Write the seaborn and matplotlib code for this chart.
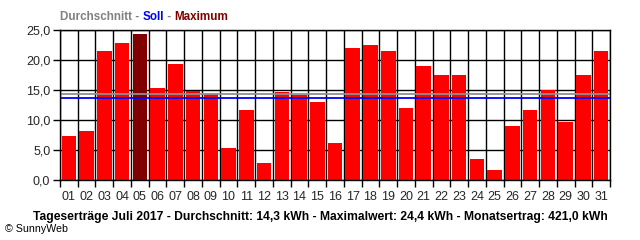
import matplotlib
matplotlib.use("Agg")
import matplotlib.pyplot as plt
import seaborn as sns
import pandas as pd
import numpy as np

days = [f"{i:02d}" for i in range(1, 32)]
values = [7.4, 8.2, 21.5, 22.8, 24.4, 15.3, 19.3, 14.9, 14.3, 5.3, 11.7, 2.8, 14.7, 14.1, 13.0,
          6.2, 22.0, 22.5, 21.5, 12.0, 19.0, 17.5, 17.5, 3.5, 1.7, 9.0, 11.7, 15.0, 9.7, 17.5, 21.5]
average = 14.3
target = 13.6
y_ticks = [0, 5, 10, 15, 20, 25]
y_labels = ["0,0", "5,0", "10,0", "15,0", "20,0", "25,0"]
caption = "Tageserträge Juli 2017 - Durchschnitt: 14,3 kWh - Maximalwert: 24,4 kWh - Monatsertrag: 421,0 kWh"
title_parts = [("Durchschnitt - ", "#808080"), ("Soll", "#0000FF"), (" - ", "#808080"), ("Maximum", "#800000")]

sns.set_style("white")
plt.rcParams['font.family'] = ['Liberation Sans', 'DejaVu Sans']

df = pd.DataFrame({"day": days, "value": values})
imax = int(np.argmax(values))
palette = {d: ("#800000" if i == imax else "#FF0000") for i, d in enumerate(days)}

fig = plt.figure(figsize=(6.4, 2.4), dpi=100)
ax = fig.add_axes([60/640, 1-180/240, 550/640, 150/240])

sns.barplot(data=df, x="day", y="value", hue="day", palette=palette, legend=False,
            width=0.82, ax=ax, saturation=1, zorder=3, linewidth=0)

ax.set_xlim(-0.5, len(days) - 0.5)
ax.set_ylim(0, 25)
ax.set_xlabel("")
ax.set_ylabel("")

for y in y_ticks:
    ax.axhline(y, color="black", lw=1.0, zorder=1)
for b in np.arange(-0.5, len(days), 1.0):
    ax.axvline(b, color="black", lw=1.0, zorder=1)

ax.axhline(average, color="#909090", lw=1.3, zorder=4)
ax.axhline(target, color="#0000FF", lw=1.3, zorder=4)

ax.set_yticks(y_ticks)
ax.set_yticklabels(y_labels, fontsize=9)
ax.set_xticks(np.arange(-0.5, len(days), 1.0))
ax.set_xticklabels([])
ax.set_xticks(np.arange(len(days)), minor=True)
ax.set_xticklabels(days, minor=True, fontsize=9)
ax.tick_params(axis="x", which="major", length=5, width=1, color="black", direction="out", bottom=True)
ax.tick_params(axis="x", which="minor", length=0, pad=8)
ax.tick_params(axis="y", length=5, width=1, color="black", direction="out", left=True, pad=2)

for s in ax.spines.values():
    s.set_color("black")
    s.set_linewidth(1.0)
    s.set_zorder(5)

fig.canvas.draw()
r = fig.canvas.get_renderer()

def fit_size(text, target_w, base=9, weight="bold"):
    t = fig.text(0, 0, text, fontsize=base, fontweight=weight)
    w = t.get_window_extent(renderer=r).width
    t.remove()
    return base * target_w / w

# title in three colors, total width ~168 px
title_full = "".join(p[0] for p in title_parts)
ts = fit_size(title_full, 168)
x = 60
for txt, col in title_parts:
    tt = fig.text(x/640, 1-17/240, txt, color=col, fontsize=ts, fontweight="bold", va="center", ha="left")
    bb = tt.get_window_extent(renderer=r)
    x = bb.x1

cs = fit_size(caption, 576)
fig.text(320/640, 1-217/240, caption, fontsize=cs, fontweight="bold", ha="center", va="center", color="black")
fig.text(5/640, 1-229/240, "© SunnyWeb", fontsize=fit_size("© SunnyWeb", 63, weight="normal"),
         ha="left", va="center", color="black")

fig.savefig("out.png", dpi=100, facecolor="white")
